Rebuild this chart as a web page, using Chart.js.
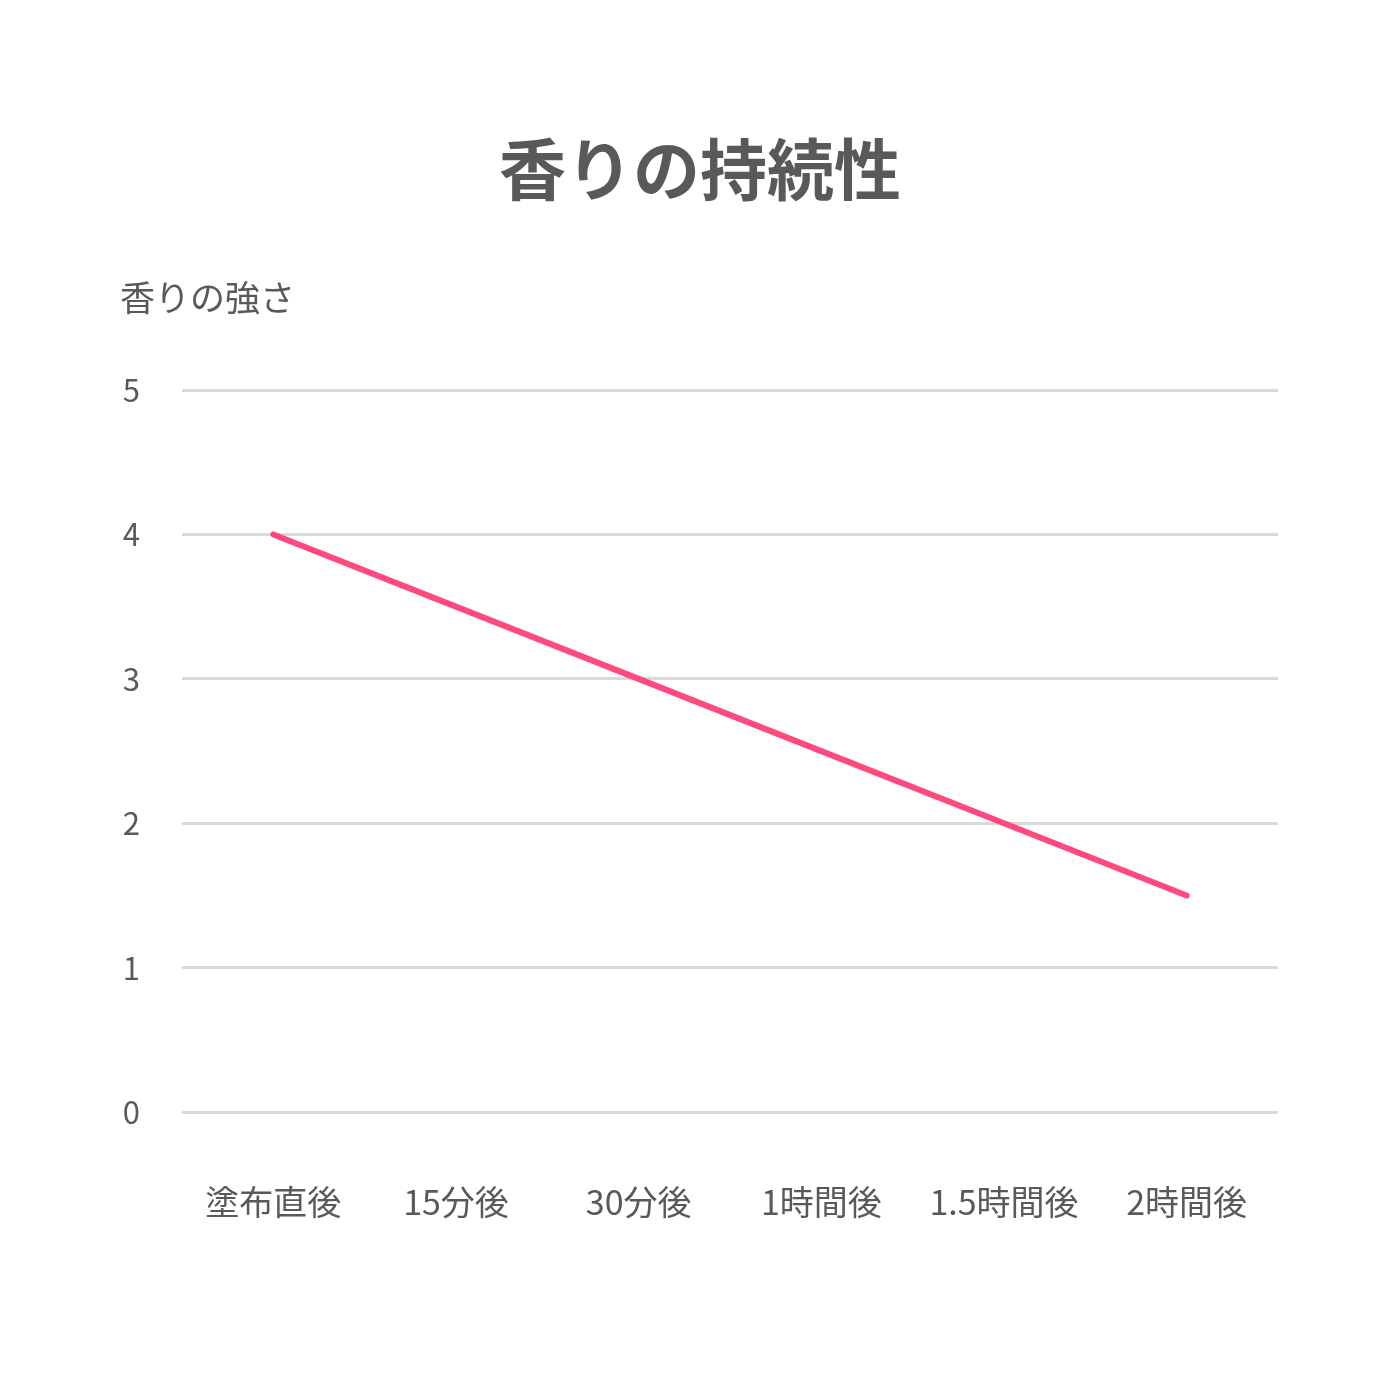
<!DOCTYPE html>
<html lang="ja">
<head>
<meta charset="utf-8">
<title>香りの持続性</title>
<script src="https://cdn.jsdelivr.net/npm/chart.js@4/dist/chart.umd.min.js"></script>
<style>
  html, body { margin: 0; padding: 0; background: #fff; }
  #chart { display: block; }
</style>
</head>
<body>
<canvas id="chart" width="1400" height="1400"></canvas>
<script>
// data
const categories = ["塗布直後", "15分後", "30分後", "1時間後", "1.5時間後", "2時間後"];
const strength = [4, 3.5, 3, 2.5, 2, 1.5];
const yTicks = [0, 1, 2, 3, 4, 5];

const textColor = "#595959";
const fontFamily = "'Noto Sans CJK JP', 'Noto Sans', sans-serif";

// page title (centred on the whole canvas) and horizontal y-axis caption
const headings = {
  id: "headings",
  afterDraw(chart) {
    const ctx = chart.ctx;
    ctx.save();
    ctx.fillStyle = textColor;
    ctx.textBaseline = "middle";
    ctx.font = "bold 67px " + fontFamily;
    ctx.textAlign = "center";
    ctx.fillText("香りの持続性", chart.width / 2, 170);
    ctx.font = "35px " + fontFamily;
    ctx.textAlign = "left";
    ctx.fillText("香りの強さ", 120, 298);
    ctx.restore();
  }
};

new Chart(document.getElementById("chart"), {
  type: "line",
  data: {
    labels: categories,
    datasets: [{
      label: "香りの強さ",
      data: strength,
      borderColor: "#ff4a7f",
      borderWidth: 6,
      borderCapStyle: "round",
      pointRadius: 0,
      tension: 0,
      fill: false
    }]
  },
  options: {
    responsive: false,
    devicePixelRatio: 1,
    animation: false,
    layout: { padding: { left: 0, right: 122, top: 390, bottom: 117 } },
    plugins: {
      legend: { display: false },
      tooltip: { enabled: false },
      title: { display: false }
    },
    scales: {
      x: {
        offset: true,
        grid: { display: false },
        border: { display: false },
        ticks: {
          color: textColor,
          font: { family: fontFamily, size: 34 },
          padding: 61,
          maxRotation: 0
        }
      },
      y: {
        min: 0,
        max: 5,
        afterBuildTicks(scale) {
          scale.ticks = yTicks.map(v => ({ value: v }));
        },
        afterFit(scale) {
          scale.width = 182;
        },
        grid: { color: "#d9d9d9", lineWidth: 3, drawTicks: false },
        border: { display: false },
        ticks: {
          color: textColor,
          font: { family: fontFamily, size: 31 },
          padding: 42
        }
      }
    }
  },
  plugins: [headings]
});
</script>
</body>
</html>
